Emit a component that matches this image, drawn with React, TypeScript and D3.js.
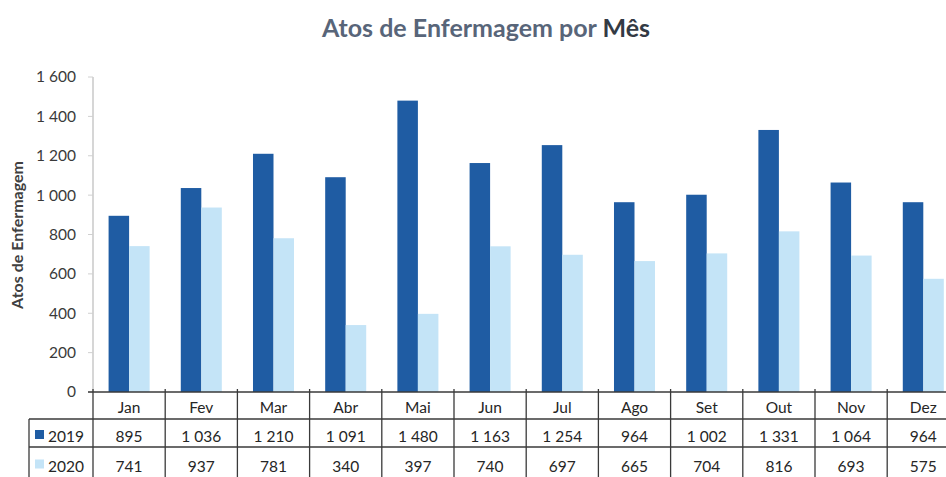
import React from "react";
import * as d3 from "d3";

const months = ["Jan", "Fev", "Mar", "Abr", "Mai", "Jun", "Jul", "Ago", "Set", "Out", "Nov", "Dez"];
const years = ["2019", "2020"];
const values2019 = [895, 1036, 1210, 1091, 1480, 1163, 1254, 964, 1002, 1331, 1064, 964];
const values2020 = [741, 937, 781, 340, 397, 740, 697, 665, 704, 816, 693, 575];
const yTicks = [0, 200, 400, 600, 800, 1000, 1200, 1400, 1600];

const series = [values2019, values2020];
const colors = ["#1f5ca3", "#c4e4f7"];

const fmt = d3.formatLocale({ decimal: ",", thousands: " ", grouping: [3], currency: ["", "€"] }).format(",d");

const font = "Lato, 'Open Sans', sans-serif";

const App = () => {
    const W = 946;
    const H = 477;
    const left = 93;
    const cellW = 72.2;

    const x = d3
        .scaleBand<string>()
        .domain(months)
        .range([left, left + cellW * months.length])
        .paddingInner(0)
        .paddingOuter(0);

    const xInner = d3
        .scaleBand<string>()
        .domain(years)
        .range([0, x.bandwidth()])
        .paddingInner(0)
        .paddingOuter(0.76);

    const y = d3.scaleLinear().domain([0, 1600]).range([392, 77]);

    const rowTop = [392, 419, 447];
    const rowBase = [442, 471.5];
    const rowBottom = 477;
    const legendLeft = 29;
    const tableRight = left + cellW * months.length;
    const line = "#3a3a3a";

    return (
        <svg width={W} height={H} style={{ position: "absolute", left: 0, top: 0, background: "#fff" }}>
            <rect width={W} height={H} fill="#fff" />
            <text x={486} y={37} textAnchor="middle" fontFamily={font} fontWeight="bold" fontSize="25" fill="#586579">
                Atos de Enfermagem por <tspan fill="#333a44">Mês</tspan>
            </text>

            {/* y axis */}
            <line x1={left} x2={left} y1={y(1600)} y2={y(0)} stroke="#c8c8c8" strokeWidth="1.5" />
            {yTicks.map(t => (
                <g key={t}>
                    <line x1={left - 5} x2={left} y1={y(t)} y2={y(t)} stroke="#d0d0d0" />
                    <text x={76} y={y(t)} dy="0.35em" textAnchor="end" fontFamily={font} fontSize="15.5" fill="#3a3a3a">
                        {fmt(t)}
                    </text>
                </g>
            ))}
            <text
                transform={`translate(23 ${235}) rotate(-90)`}
                textAnchor="middle"
                fontFamily={font}
                fontWeight="bold"
                fontSize="16"
                fill="#404040"
            >
                Atos de Enfermagem
            </text>

            {/* bars */}
            {months.map((m, i) => (
                <g key={m} transform={`translate(${x(m)} 0)`}>
                    {series.map((s, j) => (
                        <rect
                            key={j}
                            x={xInner(years[j])}
                            y={y(s[i])}
                            width={xInner.bandwidth()}
                            height={y(0) - y(s[i])}
                            fill={colors[j]}
                        />
                    ))}
                </g>
            ))}

            {/* data table */}
            <g stroke={line} strokeWidth="1.3">
                <line x1={left - 5} x2={tableRight} y1={rowTop[0]} y2={rowTop[0]} />
                <line x1={legendLeft} x2={tableRight} y1={rowTop[1]} y2={rowTop[1]} />
                <line x1={legendLeft} x2={tableRight} y1={rowTop[2]} y2={rowTop[2]} />
                <line x1={legendLeft} x2={legendLeft} y1={rowTop[1]} y2={rowBottom} />
                {months.map(m => (
                    <line key={m} x1={x(m)} x2={x(m)} y1={rowTop[0] - 3} y2={rowBottom} />
                ))}
                <line x1={tableRight} x2={tableRight} y1={rowTop[0] - 3} y2={rowBottom} />
            </g>
            {months.map(m => (
                <text
                    key={m}
                    x={(x(m) as number) + x.bandwidth() / 2}
                    y={413}
                    textAnchor="middle"
                    fontFamily={font}
                    fontSize="15.5"
                    fill="#262626"
                >
                    {m}
                </text>
            ))}
            {series.map((s, j) => (
                <g key={j}>
                    <rect x={35} y={rowBase[j] - 12} width={9} height={9} fill={colors[j]} />
                    <text x={48} y={rowBase[j]} fontFamily={font} fontSize="15.5" fill="#262626">
                        {years[j]}
                    </text>
                    {s.map((v, i) => (
                        <text
                            key={i}
                            x={(x(months[i]) as number) + x.bandwidth() / 2}
                            y={rowBase[j]}
                            textAnchor="middle"
                            fontFamily={font}
                            fontSize="15.5"
                            fill="#262626"
                        >
                            {fmt(v)}
                        </text>
                    ))}
                </g>
            ))}
        </svg>
    );
};

export default App;
